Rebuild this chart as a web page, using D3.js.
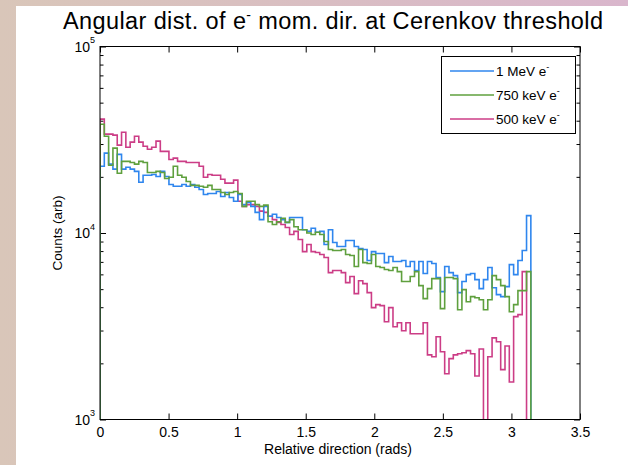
<!DOCTYPE html>
<html><head><meta charset="utf-8">
<script src="https://cdn.jsdelivr.net/npm/d3@7"></script>
<style>
body{margin:0;background:#fff;}
svg{display:block;}
text{font-family:"Liberation Sans", Arial, Helvetica, sans-serif;fill:#000;}
</style>
</head><body>
<svg id="chart" width="628" height="465"></svg>
<script>
// ---- data ----
const binCount = 100;
const binMax = Math.PI;
const seriesNames = ["1 MeV e", "750 keV e", "500 keV e"];
const counts1MeV = [22800,26800,23400,22000,26400,22000,22500,22000,21400,18700,
20400,20400,20600,20100,21400,20100,18200,17800,17800,18200,
17800,18200,17600,17100,16100,16300,16300,16700,15700,16500,
15500,14800,16100,14200,14600,13900,12900,11800,13900,12300,
12600,12100,11800,11400,12100,12100,12100,10400,10200,10600,
10100,10200,8670,10400,8890,8460,8460,9110,9110,8460,
8260,8150,7120,7950,7760,7760,6940,7480,7030,7030,
7120,6610,7030,6290,7030,6060,7030,6860,5770,4850,
6610,6130,5910,4790,5490,5980,6060,5620,5030,5620,
6530,5090,4670,4560,5160,6770,5980,7120,8050,12400];
const counts750keV = [38300,33000,23100,28500,20900,24200,24200,23900,23400,24200,
23900,21100,21100,21400,21100,19600,19900,22800,20400,19900,
18900,18000,18000,17800,17600,18000,17100,17100,16500,16100,
16500,16700,16300,13900,14800,14800,14200,13900,14100,11500,
11100,11500,12000,11400,11800,10800,10400,10400,10000,9820,
10100,9820,9000,8150,8050,8050,8150,7670,7570,6610,
8150,6940,6860,7670,6610,6530,6370,6290,6530,6210,
5490,5490,5840,6210,5220,4450,5030,5690,5690,3930,
5770,5770,5690,3880,4970,4280,4560,4500,4390,3880,
4390,5910,5620,5220,4560,3780,4130,4910,4910,6210];
const counts500keV = [40800,33900,33900,33500,29600,34700,28800,30700,33000,30700,
29200,28100,28800,31100,27400,27400,24800,25200,24200,24200,
23900,23900,23900,22800,19900,20600,20400,20400,19400,18500,
18500,19200,14800,13900,14200,14200,13900,13100,12900,12300,
11800,11400,11100,10700,9820,10200,9230,7950,8670,7950,
7860,7670,7390,6130,6290,6290,6130,5420,5840,4730,
5550,5350,4790,3980,4130,4080,3340,3980,3140,3300,
2990,3300,2880,2880,2880,3300,2220,2170,2780,2310,
1760,2120,2220,2250,2280,2340,2250,1710,2390,0,
2170,2740,2610,1850,2480,1590,3560,3650,6210,0];
const xTicks = [0,0.5,1,1.5,2,2.5,3,3.5];
const yMajor = [1e3,1e4,1e5];
const yExponents = ["3","4","5"];
const seriesColors = ["#2f86ee","#5fa03e","#cc3d86"];

// ---- drawing ----
const svg = d3.select("#chart");
const W = 628, H = 465;
const defs = svg.append("defs");
const grad = defs.append("linearGradient").attr("id","bg").attr("x1","0").attr("x2","1").attr("y1","0").attr("y2","0");
grad.append("stop").attr("offset","0").attr("stop-color","#d9c6b9");
grad.append("stop").attr("offset","1").attr("stop-color","#d9b6cc");
svg.append("rect").attr("width",W).attr("height",H).attr("fill","url(#bg)");
svg.append("rect").attr("x",16).attr("y",6).attr("width",W-16).attr("height",H-6).attr("fill","#fff");

const L = 100, R = 580, T = 46.5, B = 419.5;
const x = d3.scaleLinear().domain([0,3.5]).range([L,R]);
const y = d3.scaleLog().domain([1e3,1e5]).range([B,T]);

defs.append("clipPath").attr("id","plotclip").append("rect")
  .attr("x",L).attr("y",T).attr("width",R-L).attr("height",B-T);

// axes ticks
const fmt = d3.format("~g");
const gx = svg.append("g").attr("transform",`translate(0,${B})`)
  .call(d3.axisBottom(x).tickValues(xTicks).tickSize(-6).tickPadding(8).tickFormat(d=>fmt(d)));
const gxt = svg.append("g").attr("transform",`translate(0,${T})`)
  .call(d3.axisTop(x).tickValues(xTicks).tickSize(-6).tickFormat(""));
const minors = [];
[1e3,1e4].forEach(b=>{for(let k=2;k<=9;k++) minors.push(b*k);});
const gyl = svg.append("g").attr("transform",`translate(${L},0)`)
  .call(d3.axisLeft(y).tickValues(minors).tickSize(-3.5).tickFormat(""));
const gylM = svg.append("g").attr("transform",`translate(${L},0)`)
  .call(d3.axisLeft(y).tickValues(yMajor).tickSize(-6).tickFormat(""));
const gyr = svg.append("g").attr("transform",`translate(${R},0)`)
  .call(d3.axisRight(y).tickValues(minors).tickSize(-3.5).tickFormat(""));
const gyrM = svg.append("g").attr("transform",`translate(${R},0)`)
  .call(d3.axisRight(y).tickValues(yMajor).tickSize(-6).tickFormat(""));
[gx,gxt,gyl,gylM,gyr,gyrM].forEach(g=>{
  g.select(".domain").remove();
  g.selectAll(".tick line").attr("stroke","#000").attr("stroke-width",1);
});
gx.selectAll(".tick text").attr("font-size",14).attr("fill","#000");

// y tick labels 10^k
yMajor.forEach((v,i)=>{
  svg.append("text").attr("x",90).attr("y",y(v)+5).attr("text-anchor","end").attr("font-size",14).text("10");
  svg.append("text").attr("x",90).attr("y",y(v)-3.5).attr("font-size",9).text(yExponents[i]);
});

// series
const allSeries = [counts1MeV, counts750keV, counts500keV];
const edges = d3.range(binCount+1).map(i=>i*binMax/binCount);
function yv(v){ return v>0 ? y(v) : B+30; }
function stepPath(vals){
  let d = `M${x(edges[0])},${B+30}`;
  vals.forEach((v,i)=>{ d += `L${x(edges[i])},${yv(v)}L${x(edges[i+1])},${yv(v)}`; });
  d += `L${x(edges[binCount])},${B+30}`;
  return d;
}
const plotG = svg.append("g").attr("clip-path","url(#plotclip)");
[2,0,1].forEach(si=>{
  plotG.append("path").attr("d",stepPath(allSeries[si])).attr("fill","none")
    .attr("stroke",seriesColors[si]).attr("stroke-width",1.6).attr("stroke-linejoin","miter");
});

// box
svg.append("rect").attr("x",L).attr("y",T).attr("width",R-L).attr("height",B-T)
  .attr("fill","none").attr("stroke","#000").attr("stroke-width",1);

// legend
const lg = svg.append("g");
lg.append("rect").attr("x",441.5).attr("y",56.5).attr("width",134).attr("height",77)
  .attr("fill","#fff").attr("stroke","#000").attr("stroke-width",1);
seriesNames.forEach((name,i)=>{
  const ly = 71 + i*24;
  lg.append("line").attr("x1",450).attr("x2",494).attr("y1",ly).attr("y2",ly)
    .attr("stroke",seriesColors[i]).attr("stroke-width",1.6);
  const t = lg.append("text").attr("x",496).attr("y",ly+5).attr("font-size",13.5);
  t.append("tspan").text(name);
  t.append("tspan").attr("font-size",9).attr("dy",-6).text("-");
});

// title
const title = svg.append("text").attr("x",63).attr("y",29).attr("font-size",23.5)
  .attr("textLength",540).attr("lengthAdjust","spacing");
title.append("tspan").text("Angular dist. of e");
title.append("tspan").attr("font-size",14).attr("dy",-9).text("-");
title.append("tspan").attr("dy",9).text(" mom. dir. at Cerenkov threshold");

// axis labels
svg.append("text").attr("x",338).attr("y",454).attr("text-anchor","middle").attr("font-size",14)
  .text("Relative direction (rads)");
svg.append("text").attr("transform",`translate(62,${(T+B)/2}) rotate(-90)`).attr("text-anchor","middle")
  .attr("font-size",13.5).text("Counts (arb)");
</script>
</body></html>
